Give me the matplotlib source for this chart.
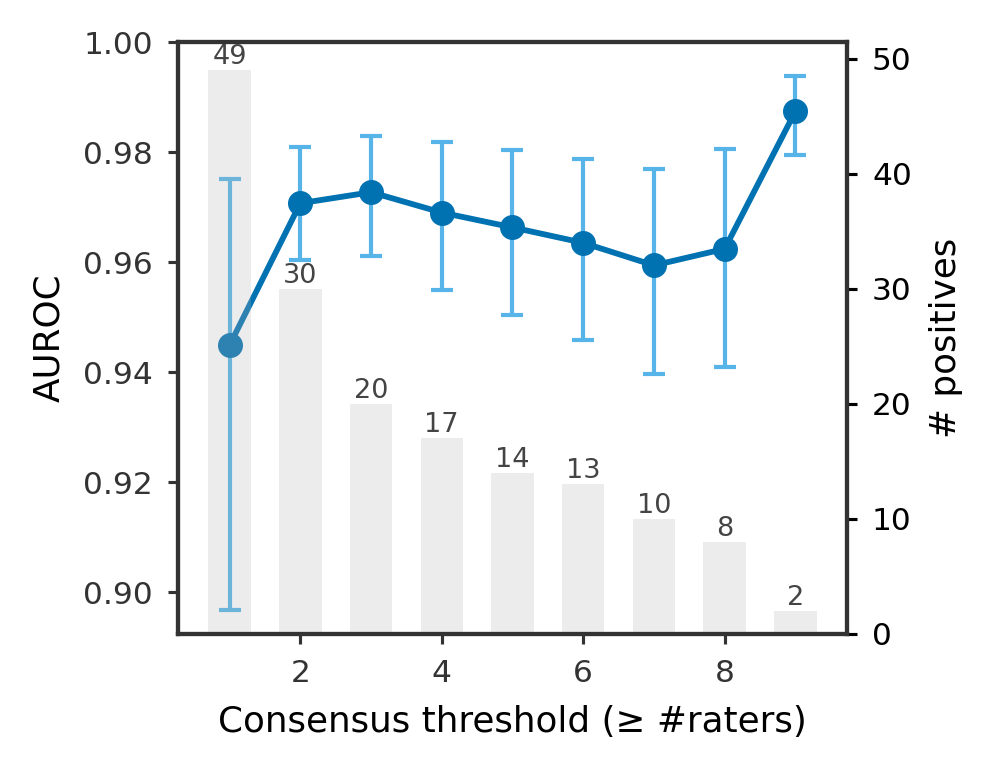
import matplotlib
matplotlib.use("Agg")
import matplotlib.pyplot as plt
import numpy as np

thresholds = [1, 2, 3, 4, 5, 6, 7, 8, 9]
auroc = [0.9449, 0.9707, 0.9727, 0.9690, 0.9663, 0.9635, 0.9594, 0.9624, 0.9874]
ci_low = [0.8967, 0.9604, 0.9611, 0.9549, 0.9504, 0.9459, 0.9396, 0.9409, 0.9794]
ci_high = [0.9751, 0.9810, 0.9830, 0.9818, 0.9804, 0.9787, 0.9769, 0.9805, 0.9939]
n_pos = [49, 30, 20, 17, 14, 13, 10, 8, 2]

plt.rcParams['font.family'] = ['DejaVu Sans']

fig = plt.figure(figsize=(3.32, 2.58), dpi=300)
ax1 = fig.add_axes([0.1787, 0.1809, 0.8504 - 0.1787, 0.9457 - 0.1809])

x = np.array(thresholds)
y = np.array(auroc)
yerr = np.vstack([y - np.array(ci_low), np.array(ci_high) - y])

ax1.errorbar(x, y, yerr=yerr, fmt='none', ecolor='#56b4e9', elinewidth=1.0,
             capsize=2.6, capthick=1.0, zorder=2)
ax1.plot(x, y, '-o', color='#0072b2', lw=1.4, markersize=5, zorder=3)
ax1.set_ylim(0.8924, 1.0)
ax1.set_yticks([0.90, 0.92, 0.94, 0.96, 0.98, 1.00])
ax1.set_yticklabels(['0.90', '0.92', '0.94', '0.96', '0.98', '1.00'])
ax1.set_xticks([2, 4, 6, 8])
ax1.set_ylabel('AUROC', fontsize=8.6, color='black')
ax1.set_xlabel('Consensus threshold (≥ #raters)', fontsize=8.6, color='black')
ax1.tick_params(axis='both', labelsize=7.5, colors='#333333', length=2.5, width=0.75)
for s in ax1.spines.values():
    s.set_color('#333333')
    s.set_linewidth(1.0)

ax2 = ax1.twinx()
bars = ax2.bar(x, n_pos, width=0.6, color='#b4b4b4', alpha=0.25, zorder=1)
for xi, n in zip(x, n_pos):
    ax2.text(xi, n, str(n), ha='center', va='bottom', fontsize=6.5, color='#444444')
ax2.set_ylim(0, max(n_pos) * 1.05)
ax2.set_yticks([0, 10, 20, 30, 40, 50])
ax2.set_ylabel('# positives', fontsize=8.6, color='black')
ax2.tick_params(axis='y', labelsize=7.5, colors='black', length=2.5, width=0.75)
for s in ax2.spines.values():
    s.set_color('#333333')
    s.set_linewidth(1.0)

fig.savefig('out.png', dpi=300)
